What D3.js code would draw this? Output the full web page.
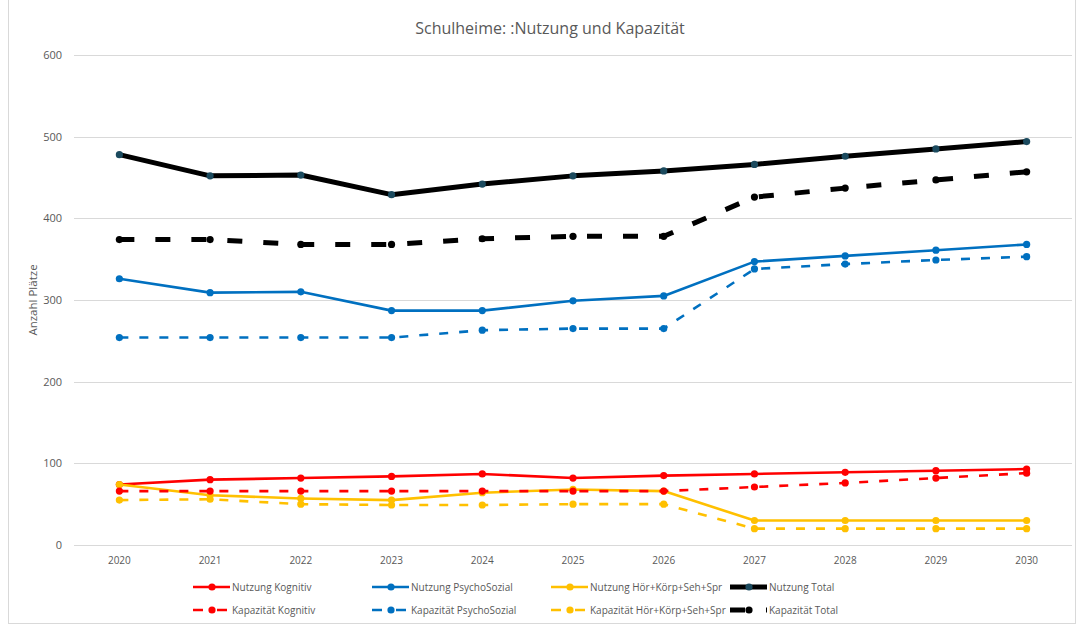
<!DOCTYPE html>
<html><head><meta charset="utf-8">
<script src="https://cdn.jsdelivr.net/npm/d3@7"></script>
<style>body{margin:0;background:#fff;}svg{display:block;font-family:"Open Sans","Liberation Sans",sans-serif;}</style>
</head><body><svg id="c" width="1078" height="624"></svg>
<script>
const years = ["2020","2021","2022","2023","2024","2025","2026","2027","2028","2029","2030"];
const yTicks = [0,100,200,300,400,500,600];
const nutzungKognitiv = [74,80,82,84,87,82,85,87,89,91,93];
const nutzungPsycho = [326,309,310,287,287,299,305,347,354,361,368];
const nutzungHoer = [74,61,57,55,64,68,66,30,30,30,30];
const nutzungTotal = [478,452,453,429,442,452,458,466,476,485,494];
const kapKognitiv = [66,66,66,66,66,66,66,71,76,82,88];
const kapPsycho = [254,254,254,254,263,265,265,338,344,349,353];
const kapHoer = [55,56,50,49,49,50,50,20,20,20,20];
const kapTotal = [374,374,368,368,375,378,378,426,437,447,457];

const series = [
  {name:"Nutzung Kognitiv", values:nutzungKognitiv, color:"#FF0000", marker:"#FF0000", w:2.6, dash:null, ldash:null},
  {name:"Nutzung PsychoSozial", values:nutzungPsycho, color:"#0070C0", marker:"#0070C0", w:2.6, dash:null, ldash:null},
  {name:"Nutzung Hör+Körp+Seh+Spr", values:nutzungHoer, color:"#FFC000", marker:"#FFC000", w:2.6, dash:null, ldash:null},
  {name:"Nutzung Total", values:nutzungTotal, color:"#000000", marker:"#1B4A5E", w:5, dash:null, ldash:null},
  {name:"Kapazität Kognitiv", values:kapKognitiv, color:"#FF0000", marker:"#FF0000", w:2.6, dash:"9,11", ldash:"10,14"},
  {name:"Kapazität PsychoSozial", values:kapPsycho, color:"#0070C0", marker:"#0070C0", w:2.6, dash:"9,11", ldash:"10,14"},
  {name:"Kapazität Hör+Körp+Seh+Spr", values:kapHoer, color:"#FFC000", marker:"#FFC000", w:2.6, dash:"9,11", ldash:"10,14"},
  {name:"Kapazität Total", values:kapTotal, color:"#000000", marker:"#000000", w:5, dash:"15,21", ldash:"15,21"}
];

const svg = d3.select("#c");
svg.append("rect").attr("x",8.5).attr("y",-1).attr("width",1067).attr("height",624.5)
  .attr("fill","#fff").attr("stroke","#d9d9d9");

const x = d3.scaleBand().domain(years).range([74,1072]);
const y = d3.scaleLinear().domain([0,600]).range([545,55]);

svg.append("text").attr("x",550).attr("y",34).attr("text-anchor","middle")
  .attr("font-size",16).attr("fill","#595959").text("Schulheime: :Nutzung und Kapazität");

const grid = svg.append("g");
yTicks.forEach(t=>{
  grid.append("line").attr("x1",74).attr("x2",1072).attr("y1",Math.round(y(t))+0.5).attr("y2",Math.round(y(t))+0.5)
    .attr("stroke","#d9d9d9").attr("stroke-width",1);
});
const yAxis = svg.append("g").attr("transform","translate(74,0)")
  .call(d3.axisLeft(y).tickValues(yTicks).tickSize(0).tickPadding(12));
yAxis.select(".domain").remove();
yAxis.selectAll("text").attr("font-size",11).attr("fill","#595959").attr("font-family","'Open Sans',sans-serif");

const xAxis = svg.append("g").attr("transform","translate(0,551)")
  .call(d3.axisBottom(x).tickSize(0).tickPadding(6));
xAxis.select(".domain").remove();
xAxis.selectAll("text").attr("font-size",10).attr("fill","#595959").attr("font-family","'Open Sans',sans-serif");

svg.append("text").attr("transform","translate(37,300) rotate(-90)").attr("text-anchor","middle")
  .attr("font-size",11.5).attr("fill","#595959").text("Anzahl Plätze");

const line = d3.line().x((d,i)=>x(years[i])+x.bandwidth()/2).y(d=>y(d));
const plot = svg.append("g");
series.forEach(s=>{
  plot.append("path").attr("d",line(s.values)).attr("fill","none").attr("stroke",s.color)
    .attr("stroke-width",s.w).attr("stroke-linejoin","round").attr("stroke-dasharray",s.dash);
  plot.selectAll(null).data(s.values).enter().append("circle")
    .attr("cx",(d,i)=>x(years[i])+x.bandwidth()/2).attr("cy",d=>y(d)).attr("r",3.6)
    .attr("fill",s.marker);
});

// legend
const legX = [193,372,551,730];
const legY = [587,610];
series.forEach((s,i)=>{
  const col = i%4, row = Math.floor(i/4);
  const g = svg.append("g").attr("transform",`translate(${legX[col]},${legY[row]})`);
  g.append("line").attr("x1",0).attr("x2",37).attr("y1",0).attr("y2",0).attr("stroke",s.color)
    .attr("stroke-width",s.w).attr("stroke-dasharray",s.ldash);
  g.append("circle").attr("cx",19).attr("cy",0).attr("r",3.6).attr("fill",s.marker);
  g.append("text").attr("x",39).attr("y",4).attr("font-size",10).attr("fill","#595959").text(s.name);
});
</script></body></html>
